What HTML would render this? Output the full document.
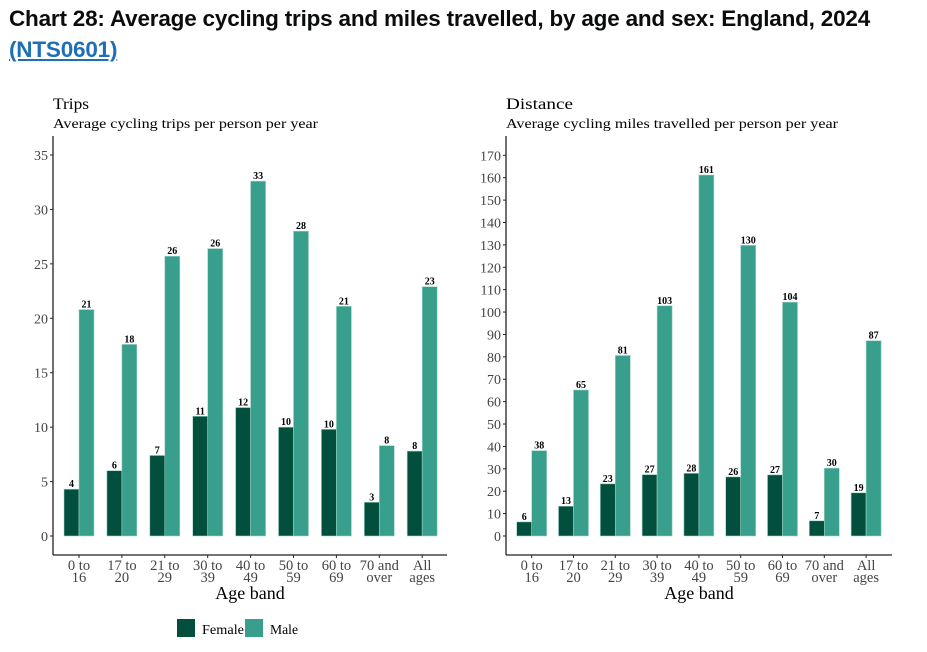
<!DOCTYPE html>
<html><head><meta charset="utf-8"><style>
body{margin:0;background:#fff;width:927px;height:652px;overflow:hidden}
h1{position:absolute;left:9px;top:3px;margin:0;font:bold 22.5px "Liberation Sans",sans-serif;color:#0b0c0c;line-height:31px;letter-spacing:-0.2px}
h1 a{color:#1d70b8;text-decoration:underline}
svg{position:absolute;left:0;top:0}
</style></head><body>
<h1>Chart 28: Average cycling trips and miles travelled, by age and sex: England, 2024<br><a>(NTS0601)</a></h1>
<svg id="c" width="927" height="652" font-family="'Liberation Serif',serif"></svg>
<script>
const categories=[["0 to","16"],["17 to","20"],["21 to","29"],["30 to","39"],["40 to","49"],["50 to","59"],["60 to","69"],["70 and","over"],["All","ages"]];
const tripsFemale=[4.3,6,7.4,11,11.8,10,9.8,3.1,7.8];
const tripsMale=[20.8,17.6,25.7,26.4,32.6,28,21.1,8.3,22.9];
const milesFemale=[6.3,13.3,23.3,27.4,28,26.4,27.3,6.8,19.3];
const milesMale=[38.1,65.2,80.6,102.8,161.2,129.8,104.4,30.3,87.2];
const tripsTicks=[0,5,10,15,20,25,30,35];
const milesTicks=[0,10,20,30,40,50,60,70,80,90,100,110,120,130,140,150,160,170];
const FEM="#024f3e",MAL="#379f8b";
const svg=document.getElementById('c');
const NS="http://www.w3.org/2000/svg";
function mk(t,a,txt){const e=document.createElementNS(NS,t);for(const k in a)e.setAttribute(k,a[k]);if(txt!==undefined)e.textContent=txt;svg.appendChild(e);return e;}
function panel(o){
  const y=v=>o.y0-(v/o.max)*(o.y0-o.yTop);
  const x=i=>o.c0+i*o.step;
  let e=mk('text',{x:o.ax,y:109,'font-size':16,fill:'#000',textLength:o.tl,lengthAdjust:'spacingAndGlyphs'},o.title);
  
  
  e=mk('text',{x:o.ax,y:128,'font-size':14,fill:'#000',textLength:o.sl,lengthAdjust:'spacingAndGlyphs'},o.sub);
  
  
  e=mk('line',{x1:o.ax,y1:136,x2:o.ax,y2:555,stroke:'#222','stroke-width':1.3});
  
  
  e=mk('line',{x1:o.ax,y1:555,x2:o.right,y2:555,stroke:'#222','stroke-width':1.3});
  
  
  o.ticks.forEach(t=>{
    e=mk('line',{x1:o.ax-3,y1:y(t),x2:o.ax,y2:y(t),stroke:'#222'});
    
    
    e=mk('text',{x:o.ax-5,y:y(t)+5,'font-size':14,fill:'#444','text-anchor':'end'},t);
    
    
  });
  categories.forEach((c,i)=>{
    const cx=x(i);
    e=mk('line',{x1:cx,y1:555,x2:cx,y2:558,stroke:'#222'});
    
    
    e=mk('text',{x:cx,y:570,'font-size':14.5,fill:'#444','text-anchor':'middle'},c[0]);
    
    
    e=mk('text',{x:cx,y:582,'font-size':14.5,fill:'#444','text-anchor':'middle'},c[1]);
    
    
    [[o.f,FEM,-15,'female'],[o.m,MAL,0,'male']].forEach(s=>{
      const v=s[0][i],top=y(v);
      e=mk('rect',{x:cx+s[2],y:top,width:15,height:o.y0-top,fill:s[1],stroke:'#9fd3c6','stroke-width':0.6});
      
      
      e=mk('text',{x:cx+s[2]+7.5,y:top-2,'font-size':10,fill:'#000','text-anchor':'middle','font-weight':'bold'},Math.round(v));
      
      
    });
  });
  e=mk('text',{x:(o.ax+o.right)/2,y:599,'font-size':18,fill:'#000','text-anchor':'middle'},'Age band');
  
  
}
panel({key:'trips',title:'Trips',sub:'Average cycling trips per person per year',tl:36,sl:265,ax:53,right:447,y0:536,yTop:155,max:35,c0:79,step:42.9,ticks:tripsTicks,f:tripsFemale,m:tripsMale});
panel({key:'distance',title:'Distance',sub:'Average cycling miles travelled per person per year',tl:67,sl:332,ax:506,right:892,y0:536,yTop:155.3,max:170,c0:531.7,step:41.8,ticks:milesTicks,f:milesFemale,m:milesMale});
let e=mk('rect',{x:177,y:619,width:18,height:18,fill:FEM});


e=mk('text',{x:202,y:634,'font-size':14,fill:'#000',textLength:42,lengthAdjust:'spacingAndGlyphs'},'Female');


e=mk('rect',{x:245,y:619,width:18,height:18,fill:MAL});


e=mk('text',{x:270,y:634,'font-size':14,fill:'#000',textLength:28,lengthAdjust:'spacingAndGlyphs'},'Male');


</script>
</body></html>
